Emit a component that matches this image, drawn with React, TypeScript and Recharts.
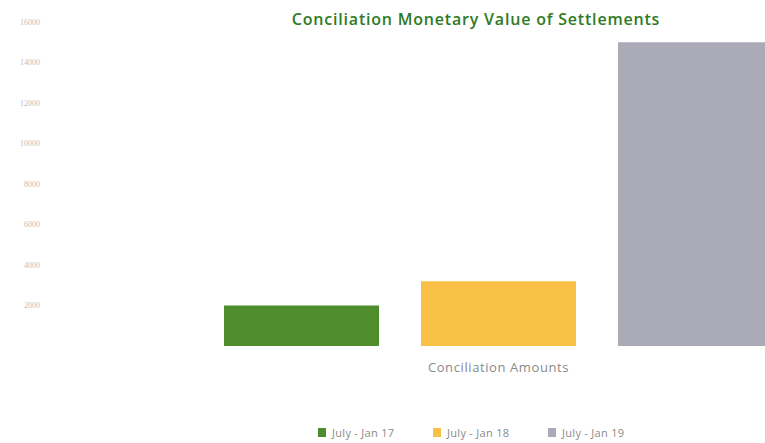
import React from "react";
import { BarChart, Bar, XAxis, YAxis } from "recharts";

const categories = ["Conciliation Amounts"];
const seriesNames = ["July - Jan 17", "July - Jan 18", "July - Jan 19"];
const seriesValues = [2000, 3200, 15000];
const seriesColors = ["#4e8c2c", "#f8c145", "#aaabb7"];
const yTicks = [2000, 4000, 6000, 8000, 10000, 12000, 14000, 16000];

const data = categories.map((c) => {
  const row: Record<string, string | number> = { category: c };
  seriesNames.forEach((n, i) => {
    row[n] = seriesValues[i];
  });
  return row;
});

export default function App() {
  return (
    <div
      style={{
        position: "fixed",
        left: 0,
        top: 0,
        width: 765,
        height: 443,
        overflow: "hidden",
        background: "#fff",
        fontFamily: "'Open Sans', sans-serif",
      }}
    >
      <div
        style={{
          position: "absolute",
          left: 0,
          top: 8,
          width: 952,
          textAlign: "center",
          color: "#2f7a1f",
          fontSize: 16,
          fontWeight: 600,
          letterSpacing: 0.8,
        }}
      >
        Conciliation Monetary Value of Settlements
      </div>
      <div style={{ position: "absolute", left: 0, top: 0 }}>
        <BarChart
          width={960}
          height={443}
          data={data}
          margin={{ top: 22, right: 11, left: 0, bottom: 60 }}
          barGap={42}
        >
          <XAxis
            dataKey="category"
            axisLine={false}
            tickLine={false}
            tickSize={0}
            tickMargin={17}
            height={37}
            tick={{
              fill: "#8a8a8a",
              fontSize: 13,
              letterSpacing: 0.6,
              fontFamily: "'Open Sans', sans-serif",
            }}
          />
          <YAxis
            domain={[0, 16000]}
            ticks={yTicks}
            axisLine={false}
            tickLine={false}
            tickSize={0}
            tickMargin={8}
            width={48}
            tick={{ fill: "#bdbdbd", fontSize: 8, fontFamily: "'Liberation Serif', serif" }}
          />
          {seriesNames.map((n, i) => (
            <Bar
              key={n}
              dataKey={n}
              fill={seriesColors[i]}
              barSize={155}
              isAnimationActive={false}
            />
          ))}
        </BarChart>
      </div>
      <div
        style={{
          position: "absolute",
          left: 318,
          top: 425,
          display: "flex",
          alignItems: "center",
          fontSize: 11,
          color: "#8a8a8a",
        }}
      >
        {seriesNames.map((n, i) => (
          <div
            key={n}
            style={{ display: "flex", alignItems: "center", width: 115 }}
          >
            <span
              style={{
                display: "inline-block",
                width: 8,
                height: 9,
                background: seriesColors[i],
                marginRight: 6,
              }}
            />
            <span style={{ letterSpacing: 0.3 }}>{n}</span>
          </div>
        ))}
      </div>
    </div>
  );
}
